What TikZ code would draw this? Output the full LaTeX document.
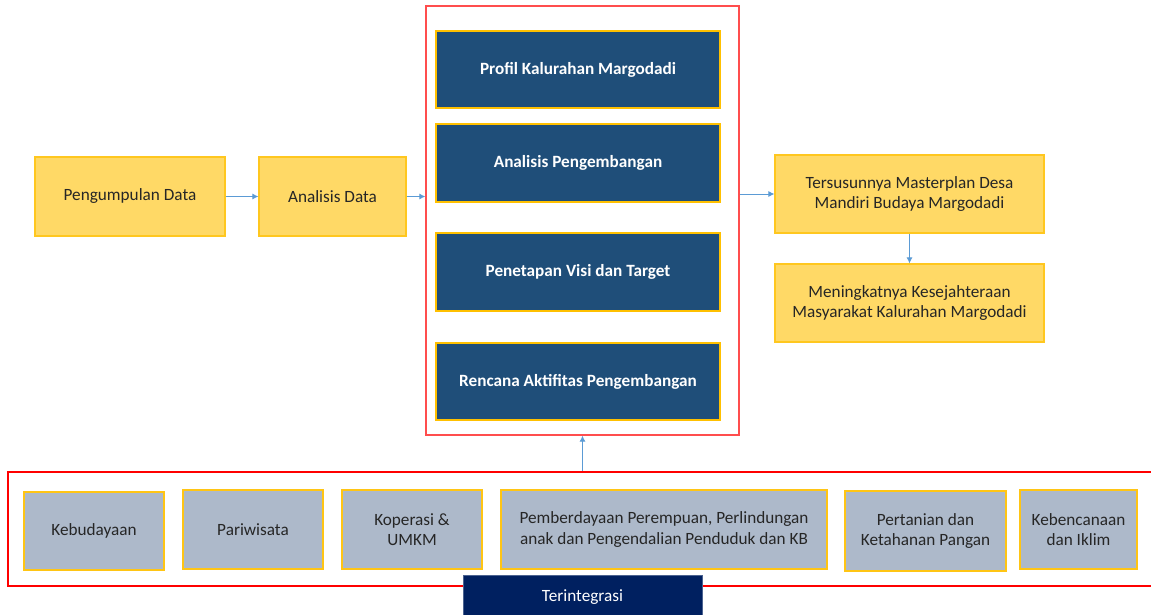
\documentclass[tikz,border=0pt]{standalone}
\usepackage{fontspec}
\setmainfont{Carlito}
\usetikzlibrary{arrows.meta}
\definecolor{ybox}{HTML}{FFD966}
\definecolor{gold}{HTML}{FFC000}
\definecolor{dblue}{HTML}{1F4E79}
\definecolor{gbox}{HTML}{ADB9CA}
\definecolor{navy}{HTML}{002060}
\definecolor{arrblue}{HTML}{5B9BD5}
\definecolor{lred}{HTML}{FF4D4D}
\tikzset{
  base/.style={inner sep=0pt, align=center, font=\fontsize{17.2}{20.5}\selectfont, line width=1.2pt},
  ybox/.style={base, fill=ybox, draw=gold!70!ybox, text=black!85},
  dbox/.style={base, fill=dblue, draw=gold, text=white, font=\fontsize{17.2}{20.5}\selectfont\bfseries},
  gboxs/.style={base, fill=gbox, draw=gold!80!ybox, text=black!85},
  arr/.style={draw=arrblue, line width=0.9pt, -{Latex[length=6pt,width=6pt]}},
}
\begin{document}
\begin{tikzpicture}[x=1pt,y=-1pt]
\useasboundingbox (0,0) rectangle (1151,614);
\clip (0,0) rectangle (1151,614);
\fill[white] (0,0) rectangle (1151,614);
% left boxes
\node[ybox, minimum width=190pt, minimum height=79pt] (pd) at (130,196.5) {Pengumpulan Data};
\node[ybox, minimum width=147pt, minimum height=79pt] (ad) at (332.5,196.5) {Analisis Data};
% central frame
\node[draw=lred, line width=1.3pt, minimum width=313pt, minimum height=429pt, inner sep=0pt] (cf) at (582.5,220.5) {};
\node[dbox, minimum width=284pt, minimum height=77pt] (c1) at (578,69.5) {Profil Kalurahan Margodadi};
\node[dbox, minimum width=284pt, minimum height=78pt] (c2) at (578,163) {Analisis Pengembangan};
\node[dbox, minimum width=284pt, minimum height=78pt] (c3) at (578,272) {Penetapan Visi dan Target};
\node[dbox, minimum width=284pt, minimum height=77pt] (c4) at (578,381.5) {Rencana Aktifitas Pengembangan};
% right boxes
\node[ybox, minimum width=269pt, minimum height=78pt] (r1) at (909.5,194) {Tersusunnya Masterplan Desa\\Mandiri Budaya Margodadi};
\node[ybox, minimum width=269pt, minimum height=78pt] (r2) at (909.5,303) {Meningkatnya Kesejahteraan\\Masyarakat Kalurahan Margodadi};
% bottom frame
\node[draw=red, line width=2.6pt, minimum width=1160pt, minimum height=114pt, inner sep=0pt] (bf) at (588,529) {};
\node[gboxs, minimum width=140pt, minimum height=78pt] (b1) at (94,531) {Kebudayaan};
\node[gboxs, minimum width=140pt, minimum height=79pt] (b2) at (253,529.5) {Pariwisata};
\node[gboxs, minimum width=140pt, minimum height=79pt] (b3) at (412,529.5) {Koperasi \&\\UMKM};
\node[gboxs, minimum width=326pt, minimum height=79pt] (b4) at (664,529.5) {Pemberdayaan Perempuan, Perlindungan\\anak dan Pengendalian Penduduk dan KB};
\node[gboxs, minimum width=161pt, minimum height=80pt] (b5) at (925.5,531) {Pertanian dan\\Ketahanan Pangan};
\node[gboxs, minimum width=117pt, minimum height=79pt] (b6) at (1078.5,529.5) {Kebencanaan\\dan Iklim};
\node[base, fill=navy, draw=navy!70!white, line width=0.8pt, text=white, minimum width=239pt, minimum height=42pt, anchor=north] (ti) at (582.5,575) {};
\node[base, text=white] (tit) at (582.5,597) {Terintegrasi};
% arrows
\draw[arr] (pd.east) -- (ad.west);
\draw[arr] (ad.east) -- (ad.east -| cf.west);
\draw[arr] (cf.east |- r1.west) -- (r1.west);
\draw[arr] (r1.south) -- (r2.north);
\draw[arr] (bf.north -| cf.south) -- (cf.south);
\end{tikzpicture}
\end{document}
